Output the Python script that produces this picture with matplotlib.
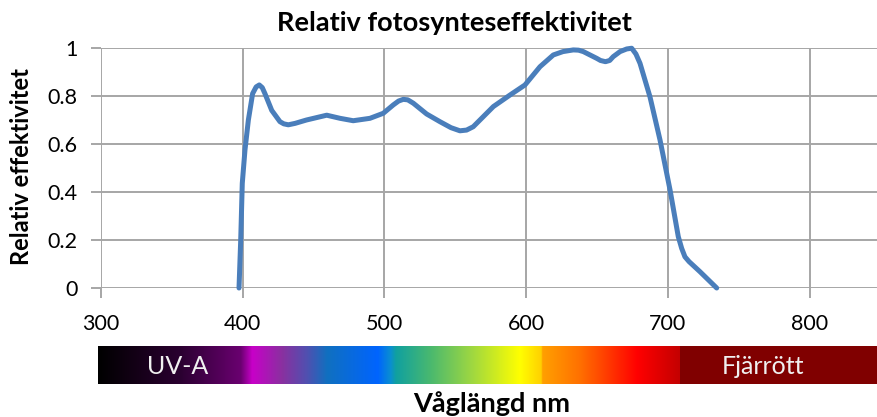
import matplotlib
matplotlib.use("Agg")
import matplotlib.pyplot as plt
import numpy as np
from matplotlib.colors import LinearSegmentedColormap

# Data
wavelength = [397.4, 398.6, 399.7, 401.6, 404.0, 407.0, 409.5, 411.7, 413.8, 415.7,
              420.5, 426.3, 429.0, 432.2, 437.0, 445.0, 459.3, 468.7, 478.0, 489.8,
              499.2, 506.3, 510.0, 513.3, 516.5, 520.4, 529.8, 539.2, 547.0, 553.3,
              558.0, 562.7, 576.9, 588.6, 599.2, 609.8, 619.2, 626.0, 633.3, 637.0,
              640.4, 649.8, 652.5, 656.0, 659.0, 661.5, 666.3, 671.0, 674.5, 677.5,
              680.4, 687.4, 694.5, 701.6, 707.4, 709.8, 712.1, 715.0, 722.7, 734.5]
efficiency = [0.0, 0.20, 0.436, 0.575, 0.70, 0.81, 0.838, 0.846, 0.835, 0.81,
              0.74, 0.693, 0.684, 0.68, 0.686, 0.70, 0.72, 0.707, 0.697, 0.707,
              0.728, 0.763, 0.779, 0.786, 0.784, 0.77, 0.725, 0.693, 0.668, 0.655,
              0.658, 0.672, 0.756, 0.804, 0.846, 0.922, 0.971, 0.985, 0.992, 0.991,
              0.985, 0.957, 0.948, 0.943, 0.948, 0.964, 0.985, 0.996, 0.999, 0.975,
              0.936, 0.797, 0.617, 0.408, 0.214, 0.165, 0.13, 0.11, 0.068, 0.0]

x_ticks = [300, 400, 500, 600, 700, 800]
y_ticks = [0, 0.2, 0.4, 0.6, 0.8, 1]
y_ticklabels = ["0", "0.2", "0.4", "0.6", "0.8", "1"]

title = "Relativ fotosynteseffektivitet"
y_label = "Relativ effektivitet"
x_label = "Våglängd nm"
band_labels = ["UV-A", "Fjärrött"]

# Spectrum bar colour stops (position fraction along gradient part, colour)
spectrum_stops = [(0.00, "#000000"), (0.14, "#2a0030"), (0.245, "#6a0070"), (0.265, "#c800c8"),
                  (0.316, "#8a30a0"), (0.359, "#5050b0"), (0.394, "#1070c0"),
                  (0.481, "#0064ff"), (0.503, "#0a8fd0"), (0.512, "#10a0a0"),
                  (0.570, "#48b870"), (0.644, "#a0d840"), (0.725, "#ffff00"),
                  (0.762, "#ffd000"), (0.764, "#ffa000"), (0.829, "#ff7000"),
                  (0.927, "#ff0000"), (1.00, "#c40000")]

W, H = 878, 417
fig = plt.figure(figsize=(W / 100, H / 100), dpi=100)
plt.rcParams['font.family'] = ['Lato', 'DejaVu Sans']

px_per_nm = 141.7 / 100.0
ax_left = 101
ax_right = ax_left + 550 * px_per_nm
ax_top = 48
ax_bottom = 288
ax = fig.add_axes([ax_left / W, 1 - ax_bottom / H, (ax_right - ax_left) / W, (ax_bottom - ax_top) / H])
ax.set_xlim(300, 850)
ax.set_ylim(0, 1)
grid_color = "#a6a6a6"
for s in ax.spines.values():
    s.set_visible(False)
ax.set_xticks(x_ticks)
ax.set_yticks(y_ticks)
ax.set_yticklabels(y_ticklabels)
ax.grid(True, color=grid_color, linewidth=1.4)
ax.tick_params(axis='both', length=7, width=1.4, color=grid_color, labelsize=15.5, labelcolor="#000000")
ax.tick_params(axis='x', pad=12)
ax.tick_params(axis='y', pad=10)
ax.set_axisbelow(True)

ax.plot(wavelength, efficiency, color="#4a7ebb", linewidth=3.6, solid_joinstyle='round',
        solid_capstyle='round', clip_on=False, zorder=3)

fig.text(454 / W, 1 - 23 / H, title, ha='center', va='center', fontsize=19.5, fontweight='bold')
fig.text(22 / W, 1 - 167 / H, y_label, ha='center', va='center', rotation=90, fontsize=17, fontweight='bold')
fig.text(492 / W, 1 - 404 / H, x_label, ha='center', va='center', fontsize=19.5, fontweight='bold')

# Spectrum bar
bar_left, bar_split, bar_right = 98, 680, 878
bar_top, bar_bottom = 346, 384
bax = fig.add_axes([bar_left / W, 1 - bar_bottom / H, (bar_split - bar_left) / W, (bar_bottom - bar_top) / H])
cmap = LinearSegmentedColormap.from_list("spec", spectrum_stops, N=1024)
grad = np.linspace(0, 1, 1024)[None, :]
bax.imshow(grad, aspect='auto', cmap=cmap, extent=[0, 1, 0, 1])
bax.set_axis_off()
bax2 = fig.add_axes([bar_split / W, 1 - bar_bottom / H, (bar_right - bar_split) / W, (bar_bottom - bar_top) / H])
bax2.set_facecolor("#800000")
bax2.set_xticks([]); bax2.set_yticks([])
for s in bax2.spines.values():
    s.set_visible(False)

fig.text(178 / W, 1 - 366 / H, band_labels[0], ha='center', va='center', fontsize=18, color="#f0f0f0")
fig.text(763 / W, 1 - 366 / H, band_labels[1], ha='center', va='center', fontsize=18, color="#f0f0f0")

fig.savefig("out.png", dpi=100)
